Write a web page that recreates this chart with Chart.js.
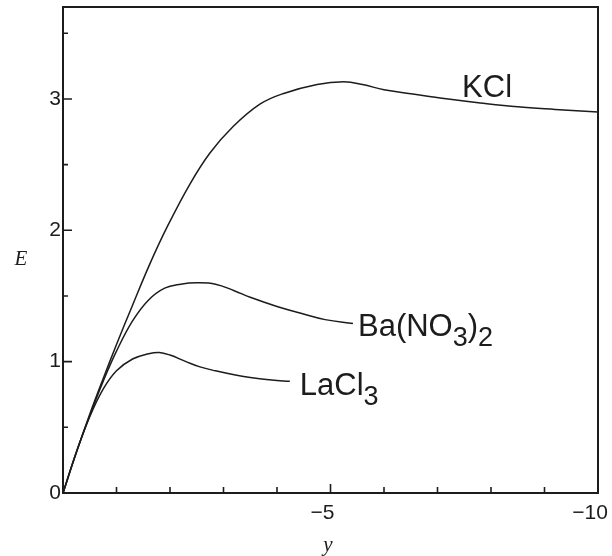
<!DOCTYPE html>
<html>
<head>
<meta charset="utf-8">
<script src="https://cdn.jsdelivr.net/npm/chart.js@4/dist/chart.umd.min.js"></script>
<style>
  html, body { margin: 0; padding: 0; background: #fff; }
  #wrap { width: 612px; height: 556px; }
</style>
</head>
<body>
<div id="wrap"><canvas id="c" width="612" height="556"></canvas></div>
<script>
// Reduced potential y (abscissa) and E for three electrolytes
const kclY = [0, -0.25, -0.5, -0.75, -1.0, -1.3, -1.63, -1.94, -2.37, -2.75, -3.18, -3.68, -4.11, -4.75, -5.25, -5.6, -6.0, -6.5, -7.2, -7.8, -8.5, -9.2, -10];
const kclE = [0, 0.31, 0.60, 0.87, 1.13, 1.43, 1.75, 2.02, 2.35, 2.59, 2.79, 2.96, 3.04, 3.11, 3.13, 3.11, 3.07, 3.04, 3.00, 2.97, 2.94, 2.92, 2.90];

const baY = [0, -0.25, -0.5, -0.75, -1.0, -1.3, -1.6, -1.9, -2.2, -2.5, -2.85, -3.2, -3.5, -4.0, -4.43, -4.9, -5.42];
const baE = [0, 0.31, 0.59, 0.85, 1.08, 1.31, 1.47, 1.56, 1.59, 1.60, 1.59, 1.54, 1.49, 1.42, 1.37, 1.32, 1.29];

const laY = [0, -0.25, -0.5, -0.75, -1.0, -1.3, -1.6, -1.8, -2.0, -2.3, -2.56, -2.85, -3.2, -3.5, -3.9, -4.24];
const laE = [0, 0.31, 0.58, 0.79, 0.93, 1.02, 1.06, 1.07, 1.05, 1.00, 0.96, 0.93, 0.90, 0.88, 0.86, 0.85];

const xTickLabels = { 0: '', '-5': '\u22125', '-10': '\u221210' };
const yTickLabels = { 0: '0', 1: '1', 2: '2', 3: '3' };

const INK = '#1c1c1c';
const SANS = '"Liberation Sans", Arial, sans-serif';
const SERIF = '"Liberation Serif", "DejaVu Serif", serif';

function pts(xs, ys) { return xs.map((x, i) => ({ x: x, y: ys[i] })); }

// Curve labels: text pieces (normal / subscript), anchored in data space
const curveLabels = [
  { at: [-7.46, 2.99], dx: 0, dy: -3, parts: [['KCl', 0]] },
  { at: [-5.42, 1.29], dx: 5, dy: 12, parts: [['Ba(NO', 0], ['3', 1], [')', 0], ['2', 1]] },
  { at: [-4.24, 0.85], dx: 10, dy: 14, parts: [['LaCl', 0], ['3', 1]] }
];

const decor = {
  id: 'decor',
  afterDraw(chart) {
    const ctx = chart.ctx;
    const a = chart.chartArea;
    const xs = chart.scales.x, ys = chart.scales.y;
    ctx.save();
    ctx.strokeStyle = INK;
    ctx.lineWidth = 2;
    ctx.strokeRect(a.left, a.top, a.right - a.left, a.bottom - a.top);

    // inward tick marks
    ctx.lineWidth = 1.6;
    ctx.beginPath();
    for (let v = -1; v >= -9; v--) {
      const px = xs.getPixelForValue(v);
      const len = v === -5 ? 9 : 6;
      ctx.moveTo(px, a.bottom);
      ctx.lineTo(px, a.bottom - len);
    }
    for (let v = 0.5; v < 3.7; v += 0.5) {
      const py = ys.getPixelForValue(v);
      const len = Number.isInteger(v) ? 9 : 5;
      ctx.moveTo(a.left, py);
      ctx.lineTo(a.left + len, py);
    }
    ctx.stroke();

    // axis titles
    ctx.fillStyle = INK;
    ctx.font = 'italic 21px ' + SERIF;
    ctx.textAlign = 'center';
    ctx.textBaseline = 'middle';
    ctx.fillText('E', 21, ys.getPixelForValue(1.78));
    ctx.fillText('y', xs.getPixelForValue(-4.95), 545);

    // curve labels
    ctx.textAlign = 'left';
    ctx.textBaseline = 'alphabetic';
    curveLabels.forEach(l => {
      let x = xs.getPixelForValue(l.at[0]) + l.dx;
      const base = ys.getPixelForValue(l.at[1]) + l.dy;
      l.parts.forEach(([t, sub]) => {
        ctx.font = (sub ? '27px ' : '31px ') + SANS;
        ctx.fillText(t, x, base + (sub ? 10 : 0));
        x += ctx.measureText(t).width;
      });
    });
    ctx.restore();
  }
};

const lineStyle = {
  borderColor: INK,
  borderWidth: 1.5,
  pointRadius: 0,
  fill: false,
  tension: 0.4
};

new Chart(document.getElementById('c'), {
  type: 'line',
  data: {
    datasets: [
      Object.assign({ label: 'KCl', data: pts(kclY, kclE) }, lineStyle),
      Object.assign({ label: 'Ba(NO3)2', data: pts(baY, baE) }, lineStyle),
      Object.assign({ label: 'LaCl3', data: pts(laY, laE) }, lineStyle)
    ]
  },
  options: {
    responsive: false,
    animation: false,
    layout: { padding: { top: 7, right: 14, left: 0, bottom: 0 } },
    plugins: { legend: { display: false }, tooltip: { enabled: false } },
    scales: {
      x: {
        type: 'linear',
        min: -10, max: 0,
        reverse: true,
        grid: { display: false, drawTicks: false },
        border: { display: false },
        afterFit(s) { s.height = 63; s.paddingLeft = 0; s.paddingRight = 0; },
        afterBuildTicks(s) { s.ticks = [0, -5, -10].map(v => ({ value: v })); },
        ticks: {
          color: INK,
          font: { family: SANS, size: 21 },
          padding: 8,
          labelOffset: -8,
          maxRotation: 0,
          callback: v => xTickLabels[v] !== undefined ? xTickLabels[v] : ''
        }
      },
      y: {
        type: 'linear',
        min: 0, max: 3.7,
        grid: { display: false, drawTicks: false },
        border: { display: false },
        afterFit(s) { s.width = 63; s.paddingTop = 0; s.paddingBottom = 0; },
        afterBuildTicks(s) { s.ticks = [0, 1, 2, 3].map(v => ({ value: v })); },
        ticks: {
          color: INK,
          font: { family: SANS, size: 21 },
          padding: 2,
          callback: v => yTickLabels[v] !== undefined ? yTickLabels[v] : ''
        }
      }
    }
  },
  plugins: [decor]
});
</script>
</body>
</html>
